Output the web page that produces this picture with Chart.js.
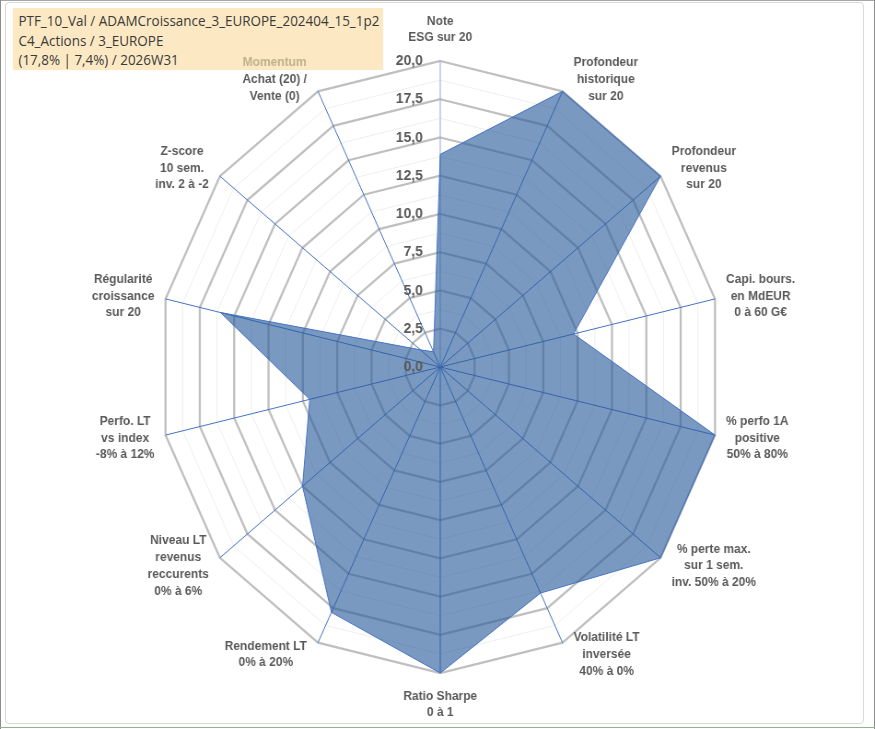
<!DOCTYPE html>
<html>
<head>
<meta charset="utf-8">
<script src="https://cdn.jsdelivr.net/npm/chart.js@4.4.1/dist/chart.umd.min.js"></script>
<style>
  html, body { margin: 0; padding: 0; background: #fff; width: 875px; height: 729px; overflow: hidden; }
  #wrap { position: absolute; left: 0; top: 0; width: 951px; height: 729px; transform: scaleX(0.921); transform-origin: 0 0; }
  #titlebox { position: absolute; left: 14px; top: 8px; width: 402px; height: 62px; background: #FCE9C4; z-index: 0;
              box-sizing: border-box; padding: 3px 0 0 6px; font-family: "Open Sans", sans-serif; font-size: 14.6px;
              line-height: 19.5px; color: #3a3a3a; white-space: nowrap; }
  #chart { position: absolute; left: 0; top: 0; z-index: 1; }
  .ln { position: absolute; }
</style>
</head>
<body>
<div class="ln" style="left:5px;top:2px;width:857px;height:720px;border:1px solid #D9D9D9;border-radius:4px;"></div>
<div class="ln" style="left:0;top:0;width:875px;height:1px;background:#A6A6A6;"></div>
<div class="ln" style="left:0;top:0;width:1px;height:729px;background:#8C8C8C;"></div>
<div class="ln" style="left:874px;top:0;width:1px;height:729px;background:#8C8C8C;"></div>
<div class="ln" style="left:0;top:727px;width:875px;height:1px;background:#8FB58F;"></div>
<div id="wrap">
  <div id="titlebox"></div>
  <canvas id="chart" width="951" height="729"></canvas>
</div>
<script>
// ---- data ----
const titleLines = [
  'PTF_10_Val / ADAMCroissance_3_EUROPE_202404_15_1p2',
  'C4_Actions / 3_EUROPE',
  '(17,8% | 7,4%) / 2026W31'
];
const categories = [
  ['Note', 'ESG sur 20'],
  ['Profondeur', 'historique', 'sur 20'],
  ['Profondeur', 'revenus', 'sur 20'],
  ['Capi. bours.', 'en MdEUR', '0 à 60 G€'],
  ['% perfo 1A', 'positive', '50% à 80%'],
  ['% perte max.', 'sur 1 sem.', 'inv. 50% à 20%'],
  ['Volatilité LT', 'inversée', '40% à 0%'],
  ['Ratio Sharpe', '0 à 1'],
  ['Rendement LT', '0% à 20%'],
  ['Niveau LT', 'revenus', 'reccurents', '0% à 6%'],
  ['Perfo. LT', 'vs index', '-8% à 12%'],
  ['Régularité', 'croissance', 'sur 20'],
  ['Z-score', '10 sem.', 'inv. 2 à -2'],
  ['Momentum', 'Achat (20) /', 'Vente (0)']
];
const scores = [13.9, 20, 20, 9.7, 20, 20, 16.4, 20, 17.8, 12.5, 9.5, 16.0, 1.8, 1.1];
const tickLabels = ['0,0', '2,5', '5,0', '7,5', '10,0', '12,5', '15,0', '17,5', '20,0'];

document.getElementById('titlebox').innerHTML = titleLines.map(t => '<div>' + t + '</div>').join('');

// ---- styles ----
const labelLineColors = { 'Momentum': '#BFB08A' };
const isMajor = v => Math.abs(v / 2.5 - Math.round(v / 2.5)) < 1e-9;

const labelPlugin = {
  id: 'customLabels',
  afterDatasetsDraw(chart) {
    const s = chart.scales.r;
    const ctx = chart.ctx;
    ctx.save();
    // value tick labels, right-aligned left of the vertical axis
    ctx.font = 'bold 15px "Liberation Sans", Arial, sans-serif';
    ctx.fillStyle = '#595959';
    ctx.textAlign = 'right';
    ctx.textBaseline = 'middle';
    s.ticks.forEach(t => {
      if (!t.label) return;
      const y = s.yCenter - s.getDistanceFromCenterForValue(t.value);
      ctx.fillText(t.label, s.xCenter - 19, y);
    });
    // category labels
    const n = chart.data.labels.length;
    const lh = 16.8;
    ctx.font = 'bold 13px "Liberation Sans", Arial, sans-serif';
    ctx.textAlign = 'center';
    chart.data.labels.forEach((lab, i) => {
      const lines = Array.isArray(lab) ? lab : [lab];
      const th = 2 * Math.PI * i / n;
      const sn = Math.sin(th), cs = Math.cos(th);
      const p = s.getPointPosition(i, s.drawingArea);
      const w = Math.max(...lines.map(l => ctx.measureText(l).width));
      const h = lines.length * lh;
      let cx, cy;
      if (Math.abs(sn) < 0.01) {
        cx = p.x;
        cy = cs > 0 ? p.y - 14.7 - h / 2 : p.y + 14.7 + h / 2;
      } else {
        cx = sn > 0 ? p.x + 12 + w / 2 : p.x - 12 - w / 2;
        cy = p.y - 13 * cs;
      }
      lines.forEach((l, k) => {
        ctx.fillStyle = labelLineColors[l] || '#595959';
        ctx.fillText(l, cx, cy - h / 2 + lh * (k + 0.5));
      });
    });
    ctx.restore();
  }
};

new Chart(document.getElementById('chart'), {
  type: 'radar',
  data: {
    labels: categories,
    datasets: [{
      data: scores,
      backgroundColor: 'rgba(40,90,155,0.62)',
      borderColor: '#4472C4',
      borderWidth: 1,
      pointRadius: 0,
      pointHoverRadius: 0,
      fill: true,
      tension: 0
    }]
  },
  options: {
    responsive: false,
    animation: false,
    devicePixelRatio: 1,
    layout: { padding: { left: 172, right: 167, top: 61, bottom: 56 } },
    plugins: { legend: { display: false }, tooltip: { enabled: false }, title: { display: false } },
    scales: {
      r: {
        min: 0,
        max: 20,
        beginAtZero: true,
        ticks: {
          stepSize: 1.25,
          display: false,
          showLabelBackdrop: false,
          callback: v => isMajor(v) ? tickLabels[Math.round(v / 2.5)] : ''
        },
        pointLabels: { display: false },
        grid: {
          circular: false,
          color: c => (c.tick && isMajor(c.tick.value)) ? '#BFBFBF' : '#EEEEEE',
          lineWidth: c => (c.tick && isMajor(c.tick.value)) ? 2.3 : 1
        },
        angleLines: {
          color: c => c.index === 0 ? '#8EA9DB' : '#4472C4',
          lineWidth: 1
        }
      }
    }
  },
  plugins: [labelPlugin]
});
</script>
</body>
</html>
